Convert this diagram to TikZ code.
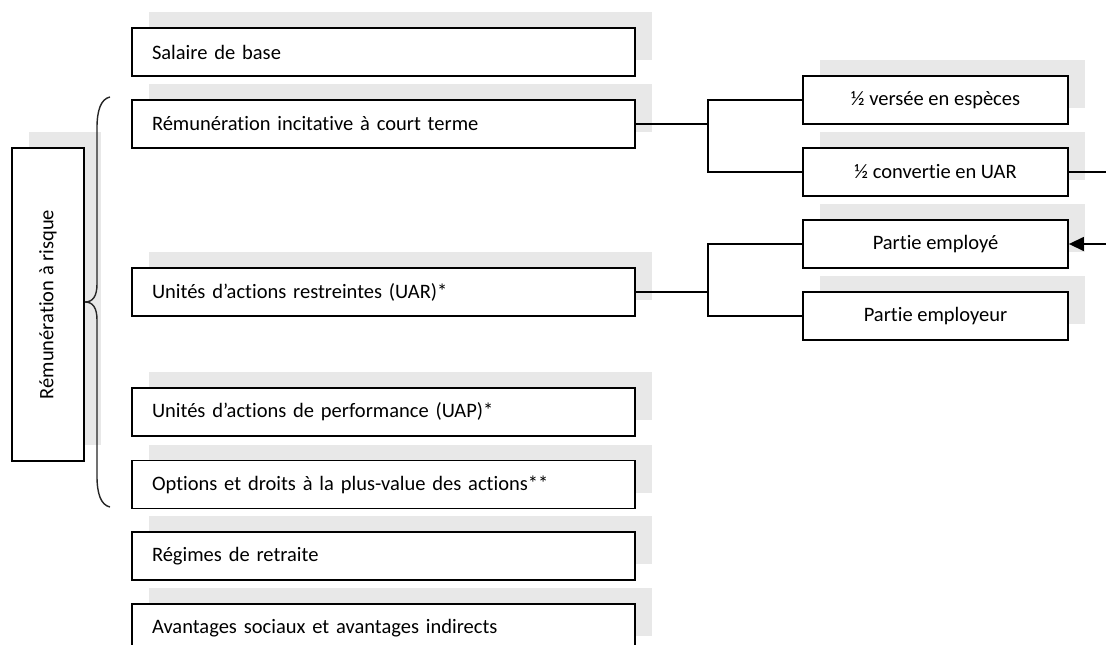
\documentclass[tikz,border=0pt]{standalone}
\usepackage{fontspec}
\setmainfont{Carlito}[Ligatures=NoCommon]
\usetikzlibrary{shadows,arrows.meta}
\definecolor{shadowgray}{RGB}{232,232,232}
\begin{document}
\begin{tikzpicture}[x=1pt,y=-1pt,
  font=\fontsize{20.5}{24}\selectfont,
  shadowed/.style={general shadow={fill=shadowgray, shadow xshift=17pt, shadow yshift=16pt}},
  boxbase/.style={draw, line width=1.8pt, fill=white, shadowed, minimum height=48pt, inner ysep=0pt},
  mainbox/.style={boxbase, text width=463pt, inner xsep=20pt, align=left},
  subbox/.style={boxbase, minimum width=265pt, inner xsep=0pt},
  sidebox/.style={boxbase, minimum width=72pt, minimum height=313pt, inner xsep=0pt},
  conn/.style={line width=1.4pt},
  bracestyle/.style={line width=1.4pt, draw=black!85}
]
\clip (0,0) rectangle (1106,645);
\fill[white] (0,0) rectangle (1106,645);

\node[mainbox] (salaire) at (383.5,52) {Salaire de base};
\node[mainbox] (incit) at (383.5,124) {Rémunération incitative à court terme};
\node[mainbox] (uar) at (383.5,292) {Unités d’actions restreintes (UAR)*};
\node[mainbox] (uap) at (383.5,412) {Unités d’actions de performance (UAP)*};
\node[mainbox] (options) at (383.5,484.5) {Options et droits à la plus-value des actions**};
\node[mainbox] (regimes) at (383.5,556) {Régimes de retraite};
\node[mainbox] (avantages) at (383.5,628) {Avantages sociaux et avantages indirects};

\node[subbox] (versee) at (935.5,100) {½ versée en espèces};
\node[subbox] (conv) at (935.5,172) {½ convertie en UAR};
\node[subbox] (employe) at (935.5,244) {Partie employé};
\node[subbox] (employeur) at (935.5,316) {Partie employeur};

\node[sidebox] (risque) at (48,304.5) {\rotatebox{90}{Rémunération à risque}};

% brace
\draw[bracestyle] (110,97) .. controls (101,99) and (97,110) .. (97,128) -- (97,284)
  .. controls (97,296) and (93,302) .. (85,302)
  .. controls (93,302) and (97,308) .. (97,320) -- (97,476)
  .. controls (97,494) and (101,505) .. (110,507);

% connectors
\coordinate (j1) at (708,124);
\coordinate (j2) at (708,292);
\draw[conn] (incit.east) -- (j1);
\draw[conn] (j1) |- (versee.west);
\draw[conn] (j1) |- (conv.west);
\draw[conn] (uar.east) -- (j2);
\draw[conn] (j2) |- (employe.west);
\draw[conn] (j2) |- (employeur.west);
\coordinate (loop) at (1130,172);
\draw[conn, -{Triangle[length=15pt,width=14pt]}] (conv.east) -- (loop) |- (employe.east);
\end{tikzpicture}
\end{document}
